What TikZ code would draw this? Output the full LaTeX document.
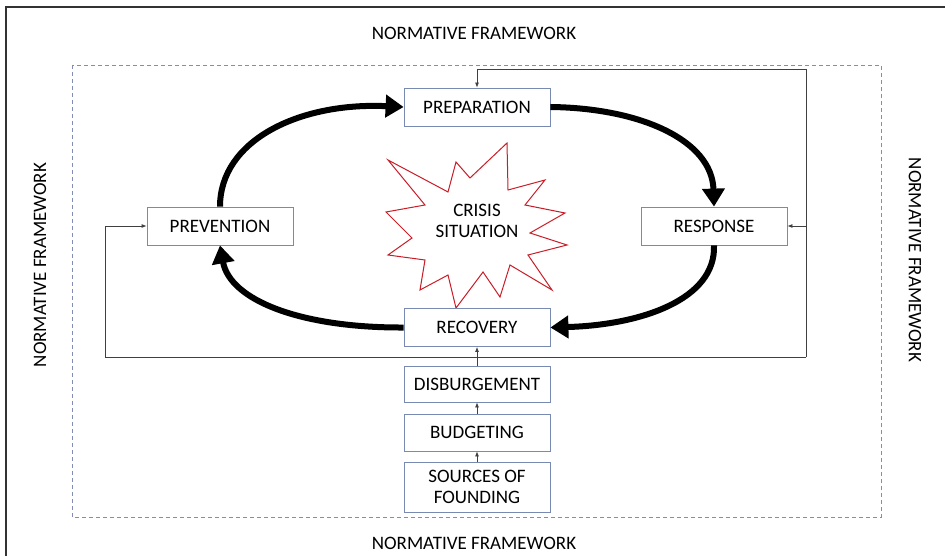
\documentclass[tikz,border=0pt]{standalone}
\usepackage{fontspec}
\setmainfont{Carlito}
\usetikzlibrary{arrows.meta}
\definecolor{boxblue}{RGB}{120,138,178}
\definecolor{dashblue}{RGB}{130,140,180}
\definecolor{starred}{RGB}{200,30,40}
\begin{document}
\begin{tikzpicture}[x=1pt,y=-1pt,
  stagebox/.style={draw=boxblue,line width=0.8pt,fill=white,minimum width=146pt,minimum height=38pt,inner sep=0pt,font=\fontsize{19}{21}\selectfont,align=center},
  cyclearrow/.style={line width=6pt,-{Triangle[length=18pt,width=22pt]}},
  thinarrow/.style={draw=black!75,line width=0.8pt,-{Latex[length=5pt,width=4pt]}},
  thinline/.style={draw=black!75,line width=0.8pt},
  frametext/.style={font=\fontsize{19}{21}\selectfont}]
\useasboundingbox (0,0) rectangle (945,556);
\draw[black!80,line width=1.4pt] (945,7) -- (6,7) -- (6,556);
\draw[dashblue,dashed,line width=0.8pt,dash pattern=on 4pt off 3pt] (72,65) rectangle (881,517);
\node[frametext] (ntop) at (474,33) {NORMATIVE FRAMEWORK};
\node[frametext] (nbot) at (474,543) {NORMATIVE FRAMEWORK};
\node[frametext,rotate=90] (nleft) at (40,265) {NORMATIVE FRAMEWORK};
\node[frametext,rotate=-90] (nright) at (915,260) {NORMATIVE FRAMEWORK};
% star
\draw[starred,line width=1pt,fill=white] (388,160) -- (448,192) -- (456,162) -- (470,178) -- (507,143) -- (508,190) -- (545,180) -- (525,205) -- (565,213) -- (530,233) -- (567,245) -- (528,255) -- (552,290) -- (510,265) -- (500,297) -- (483,272) -- (456,308) -- (448,275) -- (420,290) -- (425,260) -- (388,255) -- (412,238) -- (386,212) -- (425,205) -- cycle;
\node[font=\fontsize{19}{21}\selectfont,align=center] (crisis) at (477,221) {CRISIS\\SITUATION};
\node[stagebox] (prep) at (477,107) {PREPARATION};
\node[stagebox] (prev) at (220,226) {PREVENTION};
\node[stagebox] (resp) at (714,226) {RESPONSE};
\node[stagebox] (reco) at (477,327.5) {RECOVERY};
\node[stagebox,minimum height=36pt] (disb) at (477,384) {DISBURGEMENT};
\node[stagebox,minimum height=37pt] (budg) at (477,432.5) {BUDGETING};
\node[stagebox,minimum height=50pt] (sour) at (477,487) {SOURCES OF\\FOUNDING};
% cycle
\draw[cyclearrow] (prev.north) .. controls (220,140) and (300,102) .. (prep.west);
\draw[cyclearrow] (prep.east) .. controls (640,108) and (712,140) .. (resp.north);
\draw[cyclearrow] (resp.south) .. controls (716,300) and (640,325) .. (reco.east);
\draw[cyclearrow] (reco.west) .. controls (300,328) and (230,300) .. (prev.south);
% funding chain
\draw[thinarrow] (sour.north) -- (budg.south);
\draw[thinarrow] (budg.north) -- (disb.south);
\draw[thinarrow] (disb.north) -- (reco.south);
% feedback
\coordinate (jl) at (105,357);
\coordinate (jr) at (806,357);
\coordinate (jtop) at (806,69);
\coordinate (jprep) at (477,69);
\coordinate (jresp) at (806,226);
\coordinate (jprev) at (105,226);
\draw[thinline] (jl) -- (jr);
\draw[thinarrow] (jl) -- (jprev) -- (prev.west);
\draw[thinarrow] (jr) -- (jtop) -- (jprep) -- (prep.north);
\draw[thinarrow] (jresp) -- (resp.east);
\end{tikzpicture}
\end{document}
